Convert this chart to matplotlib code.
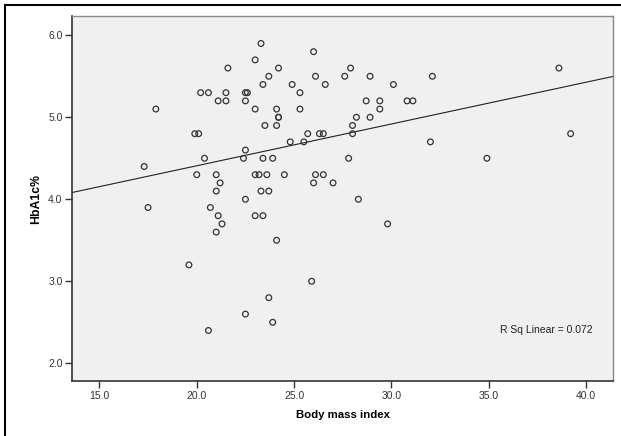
import numpy as np
import matplotlib
matplotlib.use("Agg")
import matplotlib.pyplot as plt
from matplotlib.lines import Line2D

plt.rcParams['font.family'] = ['Liberation Sans', 'DejaVu Sans']

bmi = [23.3, 26.0, 23.0, 21.6, 24.2, 27.9, 38.6, 23.7, 26.1, 27.6, 28.9, 32.1,
       23.4, 24.9, 26.6, 30.1, 20.2, 20.6, 21.5, 22.5, 22.6, 25.3, 21.1, 21.5,
       22.5, 28.7, 29.4, 30.8, 31.1, 17.9, 23.0, 24.1, 25.3, 29.4, 24.2, 24.2,
       28.2, 28.9, 23.5, 24.1, 28.0, 19.9, 20.1, 25.7, 26.3, 26.5, 28.0, 39.2,
       24.8, 25.5, 32.0, 22.5, 20.4, 22.4, 23.4, 23.9, 27.8, 34.9, 17.3, 20.0,
       21.0, 23.0, 23.2, 23.6, 24.5, 26.1, 26.5, 21.2, 26.0, 27.0, 21.0, 23.3,
       23.7, 22.5, 28.3, 17.5, 20.7, 21.1, 23.0, 23.4, 21.3, 29.8, 21.0, 24.1,
       19.6, 25.9, 23.7, 22.5, 20.6, 23.9]
hba1c = [5.9, 5.8, 5.7, 5.6, 5.6, 5.6, 5.6, 5.5, 5.5, 5.5, 5.5, 5.5,
         5.4, 5.4, 5.4, 5.4, 5.3, 5.3, 5.3, 5.3, 5.3, 5.3, 5.2, 5.2,
         5.2, 5.2, 5.2, 5.2, 5.2, 5.1, 5.1, 5.1, 5.1, 5.1, 5.0, 5.0,
         5.0, 5.0, 4.9, 4.9, 4.9, 4.8, 4.8, 4.8, 4.8, 4.8, 4.8, 4.8,
         4.7, 4.7, 4.7, 4.6, 4.5, 4.5, 4.5, 4.5, 4.5, 4.5, 4.4, 4.3,
         4.3, 4.3, 4.3, 4.3, 4.3, 4.3, 4.3, 4.2, 4.2, 4.2, 4.1, 4.1,
         4.1, 4.0, 4.0, 3.9, 3.9, 3.8, 3.8, 3.8, 3.7, 3.7, 3.6, 3.5,
         3.2, 3.0, 2.8, 2.6, 2.4, 2.5]

x_ticks = [15.0, 20.0, 25.0, 30.0, 35.0, 40.0]
y_ticks = [2.0, 3.0, 4.0, 5.0, 6.0]
r_sq_label = "R Sq Linear = 0.072"

W, H = 621, 436
fig = plt.figure(figsize=(W / 100, H / 100), dpi=100)
fig.patch.set_facecolor('white')

ax = fig.add_axes([72.3 / W, 1 - 381 / H, (612.7 - 72.3) / W, (381 - 16) / H])
ax.set_facecolor('#F0F0F0')

ax.scatter(bmi, hba1c, s=17, facecolors='none', edgecolors='#333333',
           linewidths=0.9, zorder=3)

xlim = (13.61, 41.36)
slope, intercept = np.polyfit(bmi, hba1c, 1)
xs = np.array(xlim)
ax.plot(xs, slope * xs + intercept, color='#222222', lw=0.8, zorder=2)

ax.set_xlim(*xlim)
ax.set_ylim(1.784, 6.235)
ax.set_xticks(x_ticks)
ax.set_yticks(y_ticks)
ax.set_xticklabels([f"{v:.1f}" for v in x_ticks], fontsize=7.5, color='#222222')
ax.set_yticklabels([f"{v:.1f}" for v in y_ticks], fontsize=7.5, color='#222222')
ax.tick_params(direction='out', length=5, width=1, colors='#333333', pad=2)

for side in ['left', 'bottom']:
    ax.spines[side].set_color('#333333')
    ax.spines[side].set_linewidth(1.2)
for side in ['top', 'right']:
    ax.spines[side].set_color('#888888')
    ax.spines[side].set_linewidth(1.0)

ax.set_xlabel("Body mass index", fontsize=8.2, fontweight='bold', labelpad=7)
ax.set_ylabel("HbA1c%", fontsize=8.8, fontweight='bold', labelpad=4)

ax.text(0.962, 0.14, r_sq_label, transform=ax.transAxes, ha='right',
        va='center', fontsize=7.5, color='#222222')

# outer frame (top and left visible)
fig.add_artist(Line2D([4.7 / W, 1.0], [1 - 4.7 / H, 1 - 4.7 / H], color='black',
                      lw=1.5, transform=fig.transFigure))
fig.add_artist(Line2D([4.7 / W, 4.7 / W], [0.0, 1 - 4.7 / H], color='black',
                      lw=1.5, transform=fig.transFigure))

fig.savefig("out.png", dpi=100)
